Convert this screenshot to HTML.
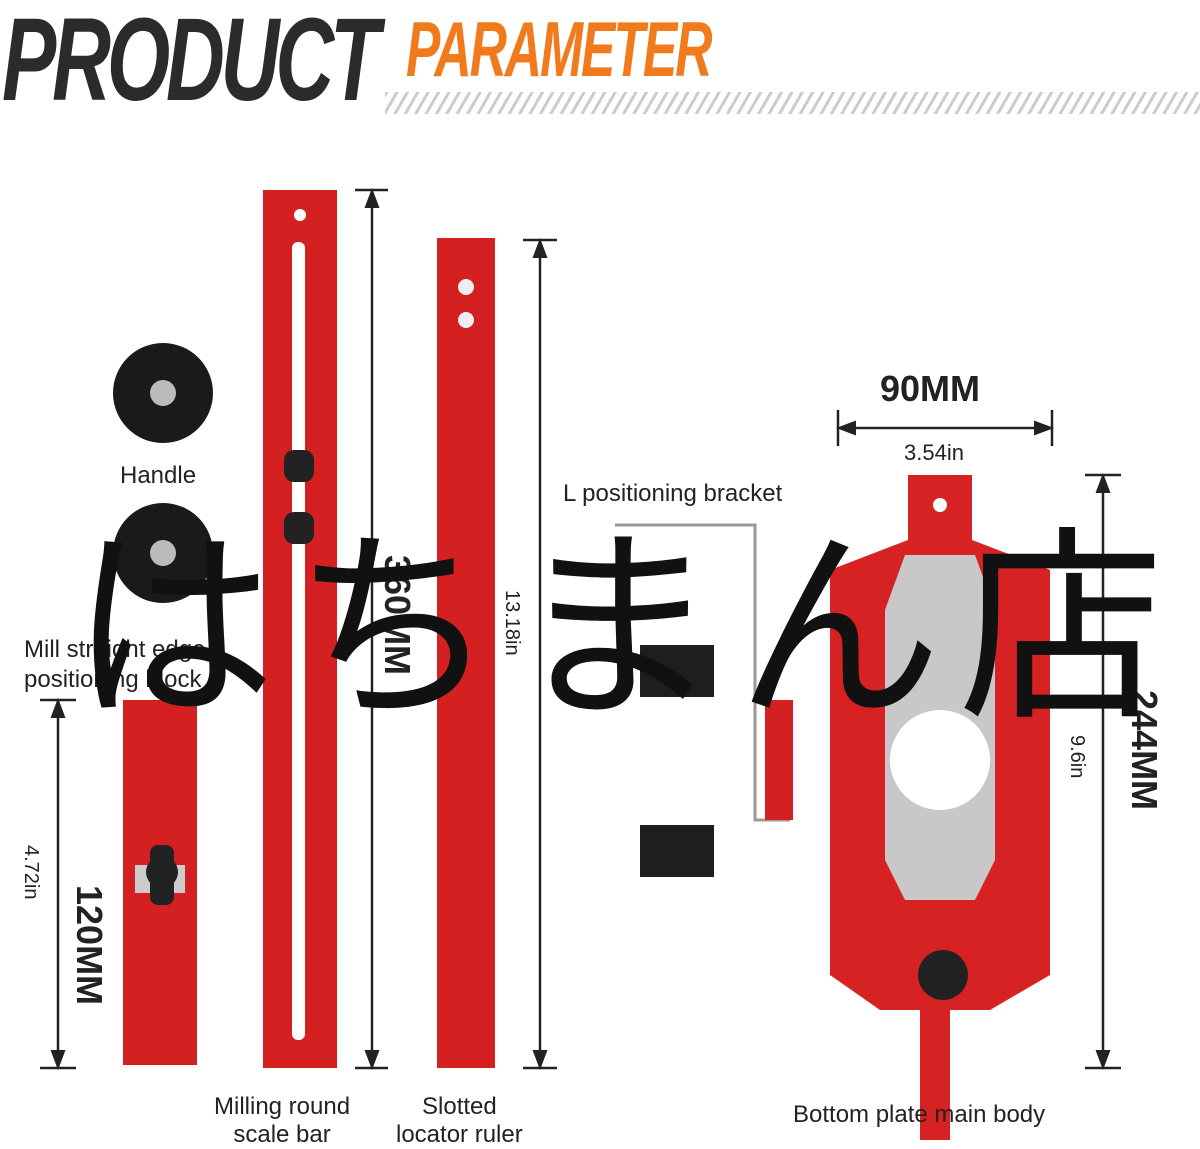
<!DOCTYPE html>
<html><head><meta charset="utf-8"><style>
body{margin:0;width:1200px;height:1147px;background:#fff;overflow:hidden;position:relative;font-family:"Liberation Sans",sans-serif}
.a{position:absolute}
.t{position:absolute;color:#222;font-size:24px;white-space:nowrap}
</style></head><body>
<div class="a" style="left:2px;top:-8px;font-size:118px;font-weight:900;font-style:italic;color:#2b2b2b;letter-spacing:-6px;transform:scaleX(0.69);transform-origin:left top">PRODUCT</div>
<div class="a" style="left:406px;top:4px;font-size:78px;font-weight:900;font-style:italic;color:#f07a1c;letter-spacing:-3px;transform:scaleX(0.66);transform-origin:left top">PARAMETER</div>
<div class="a" style="left:385px;top:92px;width:815px;height:22px;background:repeating-linear-gradient(120deg,#ccc 0 3px,#fff 3px 9px)"></div>

<svg class="a" style="left:0;top:0" width="1200" height="1147">
<defs><marker id="m" markerWidth="8" markerHeight="8" refX="4" refY="4" orient="auto-start-reverse"><path d="M0,1L8,4L0,7z" fill="#222"/></marker></defs>
<g stroke="#222" stroke-width="2.5" fill="none">
<line x1="372" y1="198" x2="372" y2="1060" marker-start="url(#m)" marker-end="url(#m)"/>
<line x1="355" y1="190" x2="388" y2="190"/><line x1="355" y1="1068" x2="388" y2="1068"/>
<line x1="540" y1="248" x2="540" y2="1060" marker-start="url(#m)" marker-end="url(#m)"/>
<line x1="523" y1="240" x2="557" y2="240"/><line x1="523" y1="1068" x2="557" y2="1068"/>
<line x1="58" y1="708" x2="58" y2="1060" marker-start="url(#m)" marker-end="url(#m)"/>
<line x1="40" y1="700" x2="76" y2="700"/><line x1="40" y1="1068" x2="76" y2="1068"/>
<line x1="1103" y1="483" x2="1103" y2="1060" marker-start="url(#m)" marker-end="url(#m)"/>
<line x1="1085" y1="475" x2="1121" y2="475"/><line x1="1085" y1="1068" x2="1121" y2="1068"/>
<line x1="846" y1="428" x2="1044" y2="428" marker-start="url(#m)" marker-end="url(#m)"/>
<line x1="838" y1="410" x2="838" y2="446"/><line x1="1052" y1="410" x2="1052" y2="446"/>
</g>
<circle cx="163" cy="393" r="50" fill="#1a1a1a"/><circle cx="163" cy="393" r="13" fill="#bbb"/>
<circle cx="163" cy="553" r="50" fill="#1a1a1a"/><circle cx="163" cy="553" r="13" fill="#bbb"/>
<rect x="123" y="700" width="74" height="365" fill="#d42020"/><rect x="135" y="865" width="50" height="28" fill="#ccc"/>
<circle cx="162" cy="872" r="16" fill="#222"/><rect x="150" y="845" width="24" height="60" rx="8" fill="#222"/>
<rect x="263" y="190" width="74" height="878" fill="#d42020"/>
<rect x="292" y="242" width="13" height="798" rx="6" fill="#fff"/>
<circle cx="300" cy="215" r="6" fill="#fff"/>
<rect x="284" y="450" width="30" height="32" rx="10" fill="#222"/><rect x="284" y="512" width="30" height="32" rx="10" fill="#222"/>
<rect x="437" y="238" width="58" height="830" fill="#d42020"/>
<circle cx="466" cy="287" r="8" fill="#eee"/><circle cx="466" cy="320" r="8" fill="#eee"/>
<rect x="640" y="645" width="74" height="52" fill="#1e1e1e"/>
<rect x="640" y="825" width="74" height="52" fill="#1e1e1e"/>
<polyline points="615,525 755,525 755,820 790,820" stroke="#999" stroke-width="3" fill="none"/>
<rect x="765" y="700" width="28" height="120" fill="#d42020"/>
<path d="M908,475 H972 V540 L1050,570 V975 L990,1010 H950 V1140 H920 V1010 H880 L830,975 V570 L908,540 Z" fill="#d62222"/>
<path d="M905,555 H975 L995,610 V860 L975,900 H905 L885,860 V610 Z" fill="#c8c8c8"/>
<circle cx="940" cy="760" r="50" fill="#fff"/>
<circle cx="940" cy="505" r="7" fill="#fff"/>
<circle cx="943" cy="975" r="25" fill="#222"/>
</svg>

<div class="t" style="left:120px;top:462px">Handle</div>
<div class="t" style="left:24px;top:635px;line-height:30px">Mill straight edge<br>positioning block</div>
<div class="t" style="left:563px;top:480px">L positioning bracket</div>
<div class="t" style="left:880px;top:368px;font-size:36px;font-weight:bold">90MM</div>
<div class="t" style="left:904px;top:440px;font-size:22px">3.54in</div>
<div class="t" style="left:214px;top:1093px;line-height:28px;text-align:center">Milling round<br>scale bar</div>
<div class="t" style="left:396px;top:1093px;line-height:28px;text-align:center">Slotted<br>locator ruler</div>
<div class="t" style="left:793px;top:1101px">Bottom plate main body</div>
<div class="t" style="left:110px;top:885px;font-size:36px;font-weight:bold;transform:rotate(90deg);transform-origin:left top">120MM</div>
<div class="t" style="left:42px;top:845px;font-size:20px;transform:rotate(90deg);transform-origin:left top">4.72in</div>
<div class="t" style="left:418px;top:555px;font-size:36px;font-weight:bold;transform:rotate(90deg);transform-origin:left top">360MM</div>
<div class="t" style="left:523px;top:590px;font-size:20px;transform:rotate(90deg);transform-origin:left top">13.18in</div>
<div class="t" style="left:1165px;top:690px;font-size:36px;font-weight:bold;transform:rotate(90deg);transform-origin:left top">244MM</div>
<div class="t" style="left:1088px;top:735px;font-size:20px;transform:rotate(90deg);transform-origin:left top">9.6in</div>
<div class="a" style="left:70px;top:508px;font-size:206px;letter-spacing:16px;color:#111;white-space:nowrap;font-family:'Noto Sans CJK JP',sans-serif;line-height:1">はちまん店</div>
</body></html>
